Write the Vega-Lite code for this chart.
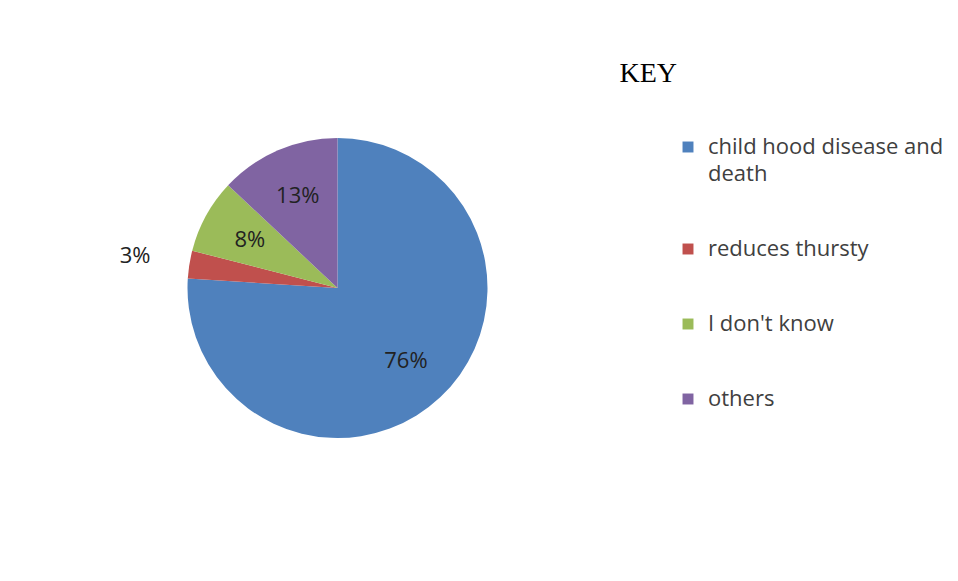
{
  "$schema": "https://vega.github.io/schema/vega-lite/v6.json",
  "width": 958,
  "height": 581,
  "autosize": {"type": "fit", "contains": "padding"},
  "padding": {"left": 61, "top": 60, "right": 14, "bottom": 65},
  "background": "white",
  "config": {"style": {"guide-label": {"lineHeight": 27}}},
  "data": {
    "values": [
      {"category": "child hood disease and death", "percent": 76, "label": "76%", "order": 1},
      {"category": "reduces thursty", "percent": 3, "label": "3%", "order": 2},
      {"category": "I don't know", "percent": 8, "label": "8%", "order": 3},
      {"category": "others", "percent": 13, "label": "13%", "order": 4}
    ]
  },
  "encoding": {
    "theta": {"field": "percent", "type": "quantitative", "stack": true},
    "order": {"field": "order", "type": "quantitative"},
    "color": {
      "field": "category",
      "type": "nominal",
      "scale": {
        "domain": ["child hood disease and death", "reduces thursty", "I don't know", "others"],
        "range": ["#4F81BD", "#C0504D", "#9BBB59", "#8064A2"]
      },
      "legend": {
        "title": "KEY",
        "orient": "right",
        "offset": 5,
        "padding": 0,
        "titleFont": "Liberation Serif",
        "titleFontSize": 28,
        "titleFontWeight": "normal",
        "titleColor": "#000000",
        "titleAnchor": "start",
        "titleAlign": "right",
        "titlePadding": 48,
        "symbolType": "square",
        "symbolSize": 120,
        "symbolStrokeWidth": 0,
        "labelFont": "Open Sans",
        "labelFontSize": 22,
        "labelColor": "#404040",
        "labelLimit": 400,
        "labelOffset": 9,
        "rowPadding": 53,
        "labelExpr": "datum.label == 'child hood disease and death' ? ['child hood disease and', 'death'] : datum.label"
      }
    }
  },
  "layer": [
    {"mark": {"type": "arc", "outerRadius": 150}},
    {
      "mark": {
        "type": "text",
        "radius": {"expr": "datum.percent < 5 ? 205 : 100"},
        "font": "Open Sans",
        "fontSize": 22,
        "color": "#222222"
      },
      "encoding": {"text": {"field": "label"}, "color": {"value": "#222222"}}
    }
  ]
}
